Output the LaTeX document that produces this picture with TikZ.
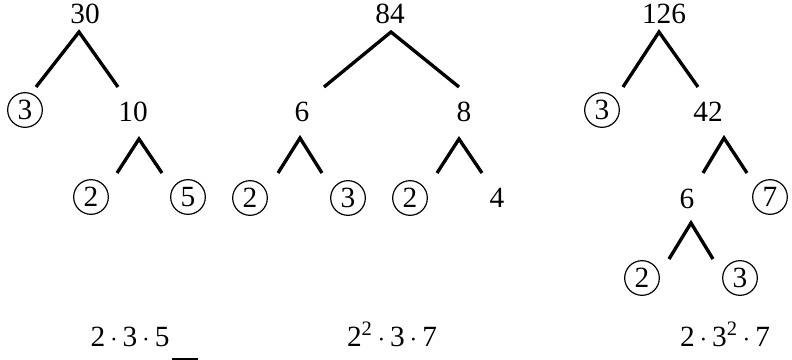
\documentclass[tikz,border=0pt]{standalone}
\usepackage{fontspec}
\setmainfont{Liberation Serif}
\usepackage{tikz}

\begin{document}
\begin{tikzpicture}[x=0.75pt,y=0.75pt,yscale=-1,xscale=1,
  num/.style={inner sep=0.75pt,font=\fontsize{22}{26}\selectfont},
  prime/.style={circle,draw,line width=0.9pt,minimum size=26pt,inner sep=0pt,font=\fontsize{22}{26}\selectfont},
  fork/.style={line width=2.5pt},
  prod/.style={anchor=base,inner sep=0.75pt,font=\fontsize{22}{26}\selectfont}]
\useasboundingbox (0,0) rectangle (792,360);

%Tree of 30
% Text Node
\draw (85,13.5) node [num] (n30) {30};
% Text Node
\draw (25,110) node [prime] (t1p3) {3};
% Text Node
\draw (133,112) node [num] (n10) {10};
% Text Node
\draw (91,197) node [prime] (t1p2) {2};
% Text Node
\draw (188,197) node [prime] (t1p5) {5};
%Straight Lines
\coordinate (a30) at (79,32); \coordinate (l30) at (36,87); \coordinate (r30) at (118,87);
\draw [fork] (l30) -- (a30) -- (r30);
%Straight Lines
\coordinate (a10) at (139,139); \coordinate (l10) at (117,173); \coordinate (r10) at (162,173);
\draw [fork] (l10) -- (a10) -- (r10);

%Tree of 84
% Text Node
\draw (390,14) node [num] (n84) {84};
% Text Node
\draw (302,112) node [num] (t2n6) {6};
% Text Node
\draw (464,112) node [num] (n8) {8};
% Text Node
\draw (250,198) node [prime] (t2p2a) {2};
% Text Node
\draw (348,198) node [prime] (t2p3) {3};
% Text Node
\draw (410,198) node [prime] (t2p2b) {2};
% Text Node
\draw (497,198) node [num] (n4) {4};
%Straight Lines
\coordinate (a84) at (391,32); \coordinate (l84) at (324,87); \coordinate (r84) at (459,87);
\draw [fork] (l84) -- (a84) -- (r84);
%Straight Lines
\coordinate (a6) at (300,138); \coordinate (l6) at (278,173); \coordinate (r6) at (322,173);
\draw [fork] (l6) -- (a6) -- (r6);
%Straight Lines
\coordinate (a8) at (459,139); \coordinate (l8) at (437,173); \coordinate (r8) at (482,173);
\draw [fork] (l8) -- (a8) -- (r8);

%Tree of 126
% Text Node
\draw (664,14) node [num] (n126) {126};
% Text Node
\draw (602,110) node [prime] (t3p3a) {3};
% Text Node
\draw (708,112) node [num] (n42) {42};
% Text Node
\draw (687,199) node [num] (t3n6) {6};
% Text Node
\draw (770,197) node [prime] (t3p7) {7};
% Text Node
\draw (642,278) node [prime] (t3p2) {2};
% Text Node
\draw (740,278) node [prime] (t3p3b) {3};
%Straight Lines
\coordinate (a126) at (659,32); \coordinate (l126) at (623,87); \coordinate (r126) at (698,87);
\draw [fork] (l126) -- (a126) -- (r126);
%Straight Lines
\coordinate (a42) at (724,138); \coordinate (l42) at (703,173); \coordinate (r42) at (747,173);
\draw [fork] (l42) -- (a42) -- (r42);
%Straight Lines
\coordinate (a6b) at (691,223); \coordinate (l6b) at (669,259); \coordinate (r6b) at (713,259);
\draw [fork] (l6b) -- (a6b) -- (r6b);

%Products
% Text Node
\draw (130,346) node [prod] (f30) {2\,$\cdot$\,3\,$\cdot$\,5};
% Text Node
\draw (392,346) node [prod] (f84) {2\textsuperscript{2}\,$\cdot$\,3\,$\cdot$\,7};
% Text Node
\draw (725,346) node [prod] (f126) {2\,$\cdot$\,3\textsuperscript{2}\,$\cdot$\,7};
%Straight Lines
\coordinate (m1) at (172,359); \coordinate (m2) at (198,359);
\draw [line width=1.2pt] (m1) -- (m2);
\end{tikzpicture}
\end{document}
